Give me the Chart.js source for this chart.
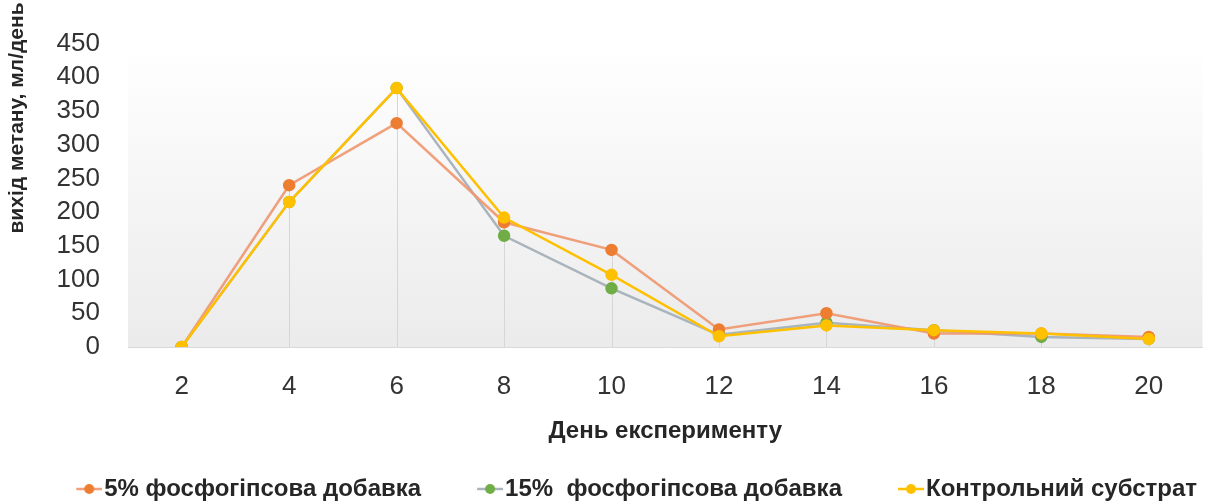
<!DOCTYPE html>
<html>
<head>
<meta charset="utf-8">
<script src="https://cdn.jsdelivr.net/npm/chart.js@4"></script>
<style>
  html, body { margin: 0; padding: 0; background: #fff; }
  #wrap { width: 1210px; height: 503px; position: relative; }
</style>
</head>
<body>
<div id="wrap"><canvas id="methane_chart"></canvas></div>
<script>
// days of the experiment
const days = ['2', '4', '6', '8', '10', '12', '14', '16', '18', '20'];
// methane yield, ml/day
const phos5 = [0, 240, 332, 185, 144, 26, 50, 20, 20, 15];
const phos15 = [0, 215, 384, 165, 87, 18, 36, 25, 15, 12];
const control = [0, 215, 384, 192, 107, 16, 32, 25, 20, 12];

const seriesNames = ['5% фосфогіпсова добавка', '15%  фосфогіпсова добавка', 'Контрольний субстрат'];
const yTitle = 'вихід метану, мл/день';
const xTitle = 'День експерименту';

const FONT = '"Liberation Sans", Arial, sans-serif';
const BOXW = 62;

// line+dot legend marker, drawn at the right end of a wider transparent canvas
function marker(lineColor, dotColor) {
  const c = document.createElement('canvas');
  c.width = BOXW + 20; c.height = 12;
  const ctx = c.getContext('2d');
  const x0 = c.width - 26;
  ctx.strokeStyle = lineColor;
  ctx.lineWidth = 2.5;
  ctx.beginPath(); ctx.moveTo(x0, 6); ctx.lineTo(x0 + 26, 6); ctx.stroke();
  ctx.fillStyle = dotColor;
  ctx.beginPath(); ctx.arc(x0 + 13, 6, 5, 0, Math.PI * 2); ctx.fill();
  return c;
}

const markers = [
  marker('rgba(240,150,110,0.9)', '#ED7D31'),
  marker('#a9b4bd', '#70AD47'),
  marker('#FFC000', '#FFC000')
];

const plotBg = {
  id: 'plotBg',
  afterInit(chart) {
    // keep the legend strip short
    const fit = chart.legend.fit;
    chart.legend.fit = function () {
      fit.call(this);
      this.height = 36;
    };
  },
  beforeDraw(chart) {
    const { ctx, chartArea: a } = chart;
    const g = ctx.createLinearGradient(0, a.top, 0, a.bottom);
    g.addColorStop(0, '#ffffff');
    g.addColorStop(1, '#ebebeb');
    ctx.save();
    ctx.fillStyle = g;
    ctx.fillRect(a.left, a.top, a.right - a.left, a.bottom - a.top);
    ctx.restore();
  },
  beforeDatasetsDraw(chart) {
    // drop lines from the highest point of each day
    const { ctx, scales } = chart;
    const x = scales.x, y = scales.y;
    ctx.save();
    ctx.strokeStyle = '#d6d6d6';
    ctx.lineWidth = 1;
    days.forEach((d, i) => {
      const top = Math.max(phos5[i], phos15[i], control[i]);
      if (top <= 0) return;
      const px = Math.round(x.getPixelForValue(i)) + 0.5;
      ctx.beginPath();
      ctx.moveTo(px, y.getPixelForValue(top));
      ctx.lineTo(px, y.getPixelForValue(0));
      ctx.stroke();
    });
    ctx.restore();
  },
  afterDraw(chart) {
    const { ctx } = chart;
    ctx.save();
    ctx.translate(17, 118);
    ctx.rotate(-Math.PI / 2);
    ctx.font = 'bold 21px ' + FONT;
    ctx.fillStyle = '#262626';
    ctx.textAlign = 'center';
    ctx.textBaseline = 'middle';
    ctx.fillText(yTitle, 0, 0);
    ctx.restore();
  }
};

const dt = {
  labels: days,
  datasets: [
    {
      label: seriesNames[0],
      data: phos5,
      borderColor: 'rgba(240,150,110,0.9)',
      backgroundColor: '#ED7D31',
      pointBackgroundColor: '#ED7D31',
      pointBorderColor: '#ED7D31',
      borderWidth: 2.5,
      pointRadius: 5,
      order: 1
    },
    {
      label: seriesNames[1],
      data: phos15,
      borderColor: '#a9b4bd',
      backgroundColor: '#70AD47',
      pointBackgroundColor: '#70AD47',
      pointBorderColor: '#70AD47',
      borderWidth: 2.5,
      pointRadius: 5,
      order: 2
    },
    {
      label: seriesNames[2],
      data: control,
      borderColor: '#FFC000',
      backgroundColor: '#FFC000',
      pointBackgroundColor: '#FFC000',
      pointBorderColor: '#FFC000',
      borderWidth: 2.5,
      pointRadius: 5,
      order: 0
    }
  ]
};

const config_methane = {
  type: 'line',
  data: dt,
  plugins: [plotBg],
  options: {
    responsive: true,
    maintainAspectRatio: false,
    animation: false,
    layout: { padding: { top: 30, right: 3, left: 0, bottom: 0 } },
    scales: {
      x: {
        offset: true,
        afterFit(scale) { scale.height = 120; },
        grid: { display: false, drawTicks: false },
        border: { display: true, color: '#d9d9d9', width: 1 },
        ticks: {
          padding: 24,
          color: '#333333',
          font: { family: FONT, size: 26 }
        },
        title: {
          display: true,
          text: xTitle,
          color: '#262626',
          padding: { top: 10, bottom: 21 },
          font: { family: FONT, size: 24, weight: 'bold' }
        }
      },
      y: {
        min: 0,
        max: 450,
        afterFit(scale) { scale.width = 128; },
        grid: { display: false, drawTicks: false },
        border: { display: false },
        ticks: {
          stepSize: 50,
          autoSkip: false,
          padding: 28,
          color: '#333333',
          font: { family: FONT, size: 26 }
        }
      }
    },
    plugins: {
      tooltip: { enabled: false },
      legend: {
        position: 'bottom',
        align: 'end',
        labels: {
          usePointStyle: true,
          pointStyleWidth: BOXW,
          padding: 10,
          color: '#262626',
          font: { family: FONT, size: 24, weight: 'bold' },
          sort: (a, b) => a.datasetIndex - b.datasetIndex,
          generateLabels(chart) {
            const items = Chart.defaults.plugins.legend.labels.generateLabels(chart);
            items.forEach(it => { it.pointStyle = markers[it.datasetIndex]; });
            return items;
          }
        }
      }
    }
  }
};

const methane_chart = new Chart(
  document.getElementById('methane_chart'),
  config_methane
);
</script>
</body>
</html>
